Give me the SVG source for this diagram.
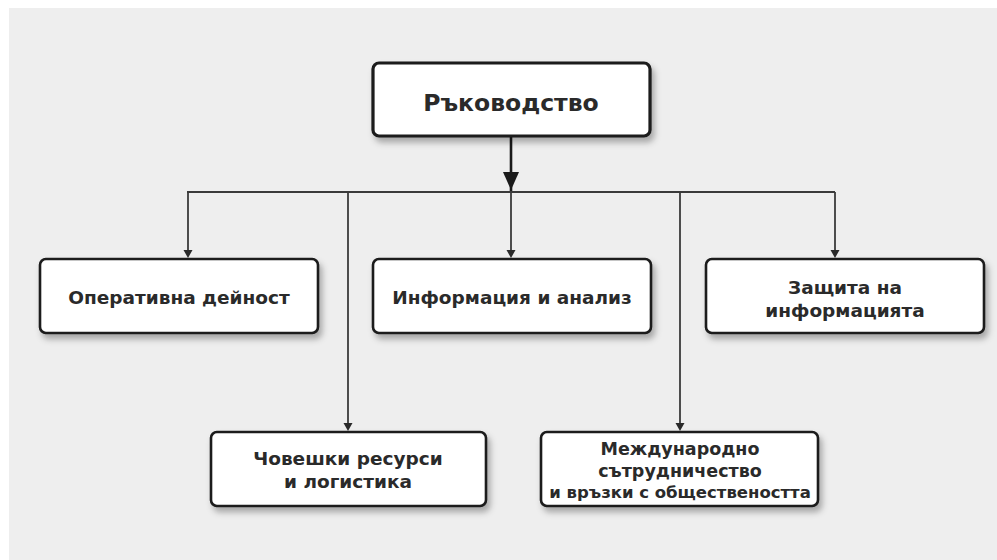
<svg xmlns="http://www.w3.org/2000/svg" width="997" height="560" viewBox="0 0 997 560">
<style>
.box{fill:#ffffff;stroke:#1a1a1a;stroke-width:2.6;filter:url(#sh)}
.top{stroke-width:3.2}
.lbl{font-family:"DejaVu Sans","Liberation Sans",sans-serif;font-weight:bold;font-size:18.5px;fill:#2a2a2a;text-anchor:middle}
.big{font-size:23.5px}
.md{font-size:17.5px}
.sm{font-size:16.5px}
.ln{stroke:#3a3a3a;stroke-width:1.8;fill:none}
</style>
<defs>
<filter id="sh" x="-10%" y="-20%" width="125%" height="160%">
<feDropShadow dx="3" dy="5" stdDeviation="3" flood-color="#000" flood-opacity="0.3"/>
</filter>
</defs>
<rect x="0" y="0" width="997" height="560" fill="#ffffff"/>
<rect x="9" y="8" width="988" height="552" fill="#eeeeee"/>
<g id="connectors">
<line x1="511" y1="137" x2="511" y2="192" style="stroke-width:2.6;stroke:#1a1a1a"/>
<path d="M503,172 L519,172 L511,190 Z" fill="#1a1a1a"/>
<line class="ln" x1="187" y1="192" x2="835" y2="192"/>
<path class="ln" d="M188,192 V251"/>
<path d="M183.5,250 L192.5,250 L188,258 Z" fill="#2a2a2a"/>
<path class="ln" d="M348,192 V424"/>
<path d="M343.5,423 L352.5,423 L348,431 Z" fill="#2a2a2a"/>
<path class="ln" d="M511,192 V251"/>
<path d="M506.5,250 L515.5,250 L511,258 Z" fill="#2a2a2a"/>
<path class="ln" d="M680,192 V424"/>
<path d="M675.5,423 L684.5,423 L680,431 Z" fill="#2a2a2a"/>
<path class="ln" d="M835,192 V251"/>
<path d="M830.5,250 L839.5,250 L835,258 Z" fill="#2a2a2a"/>
</g>
<g id="n-rukovodstvo">
<rect class="box top" x="373" y="63" width="277" height="73" rx="6"/>
<text class="lbl big" x="511" y="111">Ръководство</text>
</g>
<g id="n-operativna">
<rect class="box" x="40" y="259" width="278" height="74" rx="6"/>
<text class="lbl" x="179" y="304">Оперативна дейност</text>
</g>
<g id="n-informacia">
<rect class="box" x="373" y="259" width="278" height="74" rx="6"/>
<text class="lbl" x="512" y="304">Информация и анализ</text>
</g>
<g id="n-zashtita">
<rect class="box" x="706" y="259" width="278" height="74" rx="6"/>
<text class="lbl" x="845" y="294">Защита на</text>
<text class="lbl" x="845" y="317">информацията</text>
</g>
<g id="n-choveshki">
<rect class="box" x="211" y="432" width="275" height="74" rx="6"/>
<text class="lbl" x="348" y="465">Човешки ресурси</text>
<text class="lbl" x="348" y="488">и логистика</text>
</g>
<g id="n-mejdunarodno">
<rect class="box" x="541" y="432" width="277" height="74" rx="6"/>
<text class="lbl md" x="680" y="455">Международно</text>
<text class="lbl md" x="680" y="477">сътрудничество</text>
<text class="lbl sm" x="680" y="498">и връзки с обществеността</text>
</g>
</svg>
